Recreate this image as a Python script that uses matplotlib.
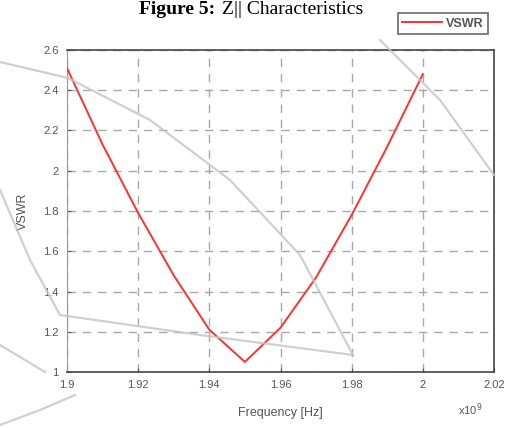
import matplotlib
matplotlib.use("Agg")
import matplotlib.pyplot as plt
from matplotlib.lines import Line2D
import numpy as np

plt.rcParams["font.family"] = ["Liberation Sans", "DejaVu Sans"]

freq = [1.90, 1.91, 1.92, 1.93, 1.94, 1.95, 1.96, 1.97, 1.98, 1.99, 2.00]
vswr = [2.51, 2.13, 1.79, 1.48, 1.21, 1.05, 1.22, 1.47, 1.78, 2.12, 2.48]
xticks = [1.9, 1.92, 1.94, 1.96, 1.98, 2.0, 2.02]
xticklabels = ["1.9", "1.92", "1.94", "1.96", "1.98", "2", "2.02"]
yticks = [1.0, 1.2, 1.4, 1.6, 1.8, 2.0, 2.2, 2.4, 2.6]
yticklabels = ["1", "1.2", "1.4", "1.6", "1.8", "2", "2.2", "2.4", "2.6"]

W, H = 509, 428
fig = plt.figure(figsize=(W / 100, H / 100), dpi=100)
ax = fig.add_axes([67 / W, 1 - 372 / H, (494 - 67) / W, (372 - 50) / H])

tcol = "#555555"
ax.plot(freq, vswr, color="#ff3030", lw=1.4, label="VSWR", zorder=3)
ax.set_xlim(1.9, 2.02)
ax.set_ylim(1.0, 2.6)
ax.set_xticks(xticks)
ax.set_xticklabels(xticklabels)
ax.set_yticks(yticks)
ax.set_yticklabels(yticklabels)
ax.grid(True, linestyle=(0, (6, 5)), color="#a8a8a8", lw=1.0)
ax.tick_params(direction="in", length=3, colors=tcol, labelsize=8, pad=6,
               labelcolor=tcol)
for s in ["top", "right", "bottom"]:
    ax.spines[s].set_color("#444444")
    ax.spines[s].set_linewidth(1.2)
ax.spines["left"].set_color("#999999")
ax.set_xlabel("Frequency [Hz]", fontsize=9, color=tcol, labelpad=12)
ax.set_ylabel("VSWR", fontsize=9, color=tcol, labelpad=10)
fig.text(470 / W, 1 - 410 / H, r"x10$^9$", fontsize=8, color=tcol,
         ha="center", va="center")

leg = ax.legend(loc="lower right", bbox_to_anchor=(1.0, 1.03), fontsize=9,
                frameon=True, fancybox=False, edgecolor="#444444",
                handlelength=3.2, borderpad=0.35, handletextpad=0.3)
leg.get_frame().set_linewidth(1.2)
for t in leg.get_texts():
    t.set_color(tcol)
    t.set_fontweight("bold")

# figure caption (partly visible at the top in the source)
fig.text(215 / W, 1 - 14 / H, "Figure 5:", fontsize=14, fontweight="bold",
         family="Liberation Serif", ha="right", va="baseline")
fig.text(222 / W, 1 - 14 / H, "Z|| Characteristics", fontsize=14,
         family="Liberation Serif", ha="left", va="baseline")

# watermark strokes
wm = dict(color="#c4c4c4", alpha=0.8, lw=1.6, transform=fig.transFigure,
          zorder=0.5)
def px(pts):
    xs = [p[0] / W for p in pts]
    ys = [1 - p[1] / H for p in pts]
    return xs, ys
for pts in [
    [(0, 62), (68, 78), (150, 120), (230, 180), (300, 255), (353, 355)],
    [(0, 190), (30, 260), (60, 315), (200, 335), (353, 355)],
    [(380, 40), (440, 100), (494, 175)],
    [(0, 345), (45, 372)],
    [(0, 425), (40, 410), (75, 395)],
]:
    xs, ys = px(pts)
    fig.add_artist(Line2D(xs, ys, **wm))

fig.savefig("out.png", dpi=100)
